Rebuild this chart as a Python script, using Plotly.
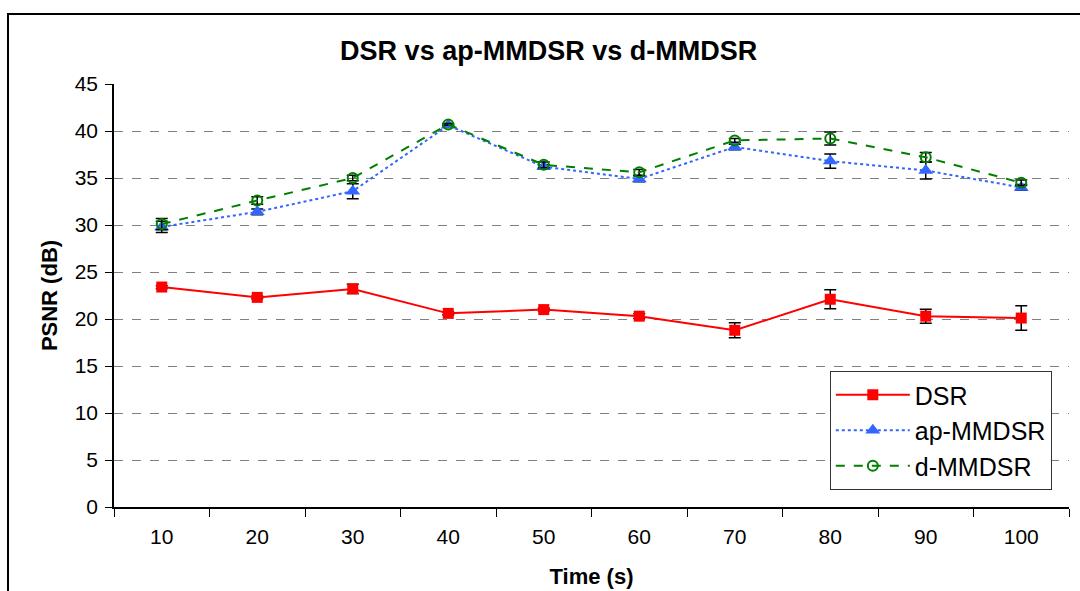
import plotly.graph_objects as go

time_labels = ["10", "20", "30", "40", "50", "60", "70", "80", "90", "100"]
dsr = [23.4, 22.3, 23.2, 20.6, 21.0, 20.3, 18.8, 22.1, 20.3, 20.1]
dsr_err = [0.15, 0.15, 0.5, 0.15, 0.15, 0.25, 0.8, 1.0, 0.75, 1.3]
ap_mmdsr = [29.8, 31.4, 33.6, 40.6, 36.2, 34.9, 38.3, 36.8, 35.8, 34.0]
ap_err = [0.6, 0.3, 0.8, 0.1, 0.2, 0.3, 0.3, 0.75, 0.9, 0.3]
d_mmdsr = [30.1, 32.6, 35.0, 40.7, 36.4, 35.6, 39.0, 39.2, 37.2, 34.5]
d_err = [0.6, 0.4, 0.3, 0.1, 0.3, 0.3, 0.2, 0.7, 0.5, 0.3]
y_ticks = [0, 5, 10, 15, 20, 25, 30, 35, 40, 45]

FONT = "Liberation Sans, Arial, sans-serif"

def err(vals):
    return dict(type="data", array=vals, visible=True, color="black",
                thickness=1.5, width=6)

fig = go.Figure()
fig.add_trace(go.Scatter(
    x=time_labels, y=dsr, name="DSR", mode="lines+markers",
    line=dict(color="#FF0000", width=2),
    marker=dict(symbol="square", size=11, color="#FF0000"),
    error_y=err(dsr_err)))
fig.add_trace(go.Scatter(
    x=time_labels, y=ap_mmdsr, name="ap-MMDSR", mode="lines+markers",
    line=dict(color="#3366FF", width=2, dash="dot"),
    marker=dict(symbol="triangle-up", size=13, color="#3366FF"),
    error_y=err(ap_err)))
fig.add_trace(go.Scatter(
    x=time_labels, y=d_mmdsr, name="d-MMDSR", mode="lines+markers",
    line=dict(color="#008000", width=2, dash="dash"),
    marker=dict(symbol="circle-open", size=10, color="#008000",
                line=dict(width=2)),
    error_y=err(d_err)))

fig.update_layout(
    width=1080, height=591,
    margin=dict(l=114, r=11, t=84, b=84),
    paper_bgcolor="white", plot_bgcolor="white",
    font=dict(family=FONT, color="black", size=21),
    title=dict(text="<b>DSR vs ap-MMDSR vs d-MMDSR</b>", x=0.508, xanchor="center",
               y=0.915, yanchor="middle", font=dict(size=27)),
    showlegend=True,
    legend=dict(x=0.982, xanchor="right", y=0.04, yanchor="bottom",
                bgcolor="white", bordercolor="#333333", borderwidth=1,
                font=dict(size=25), itemwidth=74, tracegroupgap=0),
)
fig.update_xaxes(
    type="category", range=[-0.5, len(time_labels) - 0.5],
    tickson="boundaries", ticks="outside", ticklen=8,
    tickcolor="black", showline=True, linecolor="black", linewidth=1.5,
    showgrid=False, tickfont=dict(size=21), automargin=False,
    ticklabelstandoff=10,
    title=dict(text="<b>Time (s)</b>", font=dict(size=22), standoff=22),
)
fig.update_yaxes(
    range=[0, 45], tickvals=y_ticks, ticks="outside", ticklen=7,
    tickcolor="black", showline=True, linecolor="black", linewidth=1.5,
    showgrid=True, gridcolor="#808080", griddash="dash", gridwidth=1,
    zeroline=False, tickfont=dict(size=21), automargin=False,
    ticklabelstandoff=3,
    title=dict(text="<b>PSNR (dB)</b>", font=dict(size=22), standoff=11),
)
fig.add_shape(type="rect", xref="paper", yref="paper",
              x0=(8 - 114) / 955, x1=1.05, y0=-0.3, y1=(507 - 14) / 423,
              line=dict(color="black", width=2), layer="below")

fig.write_html("out.html", config={"displayModeBar": False},
               post_script="document.body.style.margin='0';")
